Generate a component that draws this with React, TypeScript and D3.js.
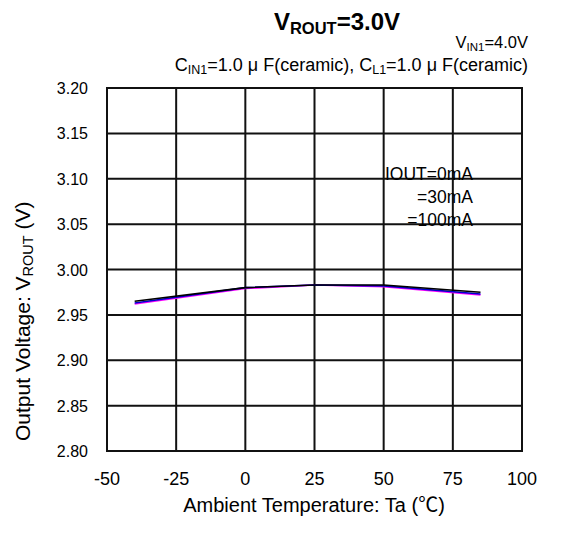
import * as d3 from 'd3'

const temps = [-40, 0, 25, 50, 85]
const iout0 = [2.965, 2.98, 2.983, 2.983, 2.975]
const iout30 = [2.963, 2.98, 2.983, 2.982, 2.973]
const iout100 = [2.962, 2.979, 2.983, 2.981, 2.972]
const xTicks = [-50, -25, 0, 25, 50, 75, 100]
const yTicks = [2.8, 2.85, 2.9, 2.95, 3.0, 3.05, 3.1, 3.15, 3.2]
const legendLabels = ['IOUT=0mA', '=30mA', '=100mA']

const series = [
  { name: '100mA', values: iout100, color: '#ff00ff' },
  { name: '30mA', values: iout30, color: '#0000cc' },
  { name: '0mA', values: iout0, color: '#000000' },
]

export default function App() {
  const width = 563
  const height = 539
  const margin = { top: 88, right: 41, bottom: 88, left: 107 }
  const innerW = width - margin.left - margin.right
  const innerH = height - margin.top - margin.bottom

  const x = d3.scaleLinear().domain([-50, 100]).range([0, innerW])
  const y = d3.scaleLinear().domain([2.8, 3.2]).range([innerH, 0])

  const line = d3
    .line<number>()
    .x((_, i) => x(temps[i]))
    .y((d) => y(d))

  const font = 'Arial, "Liberation Sans", sans-serif'

  return (
    <svg
      width={width}
      height={height}
      style={{ position: 'absolute', left: 0, top: 0, background: '#fff' }}
      fontFamily={font}
    >
      {/* title block */}
      <text x={337} y={30} textAnchor="middle" fontSize={24} fontWeight="bold">
        V<tspan fontSize={16.5} dy={4}>ROUT</tspan>
        <tspan dy={-4}>=3.0V</tspan>
      </text>
      <text x={528} y={48} textAnchor="end" fontSize={16.5}>
        V<tspan fontSize={11.5} dy={2.5}>IN1</tspan>
        <tspan dy={-2.5}>=4.0V</tspan>
      </text>
      <text x={528} y={71} textAnchor="end" fontSize={18}>
        C<tspan fontSize={12.5} dy={3}>IN1</tspan>
        <tspan dy={-3}>=1.0 μ F(ceramic), C</tspan>
        <tspan fontSize={12.5} dy={3}>L1</tspan>
        <tspan dy={-3}>=1.0 μ F(ceramic)</tspan>
      </text>

      <g transform={`translate(${margin.left},${margin.top})`}>
        {yTicks.map((t) => (
          <line key={'gy' + t} x1={0} x2={innerW} y1={y(t)} y2={y(t)} stroke="#111" strokeWidth={2} />
        ))}
        {xTicks.map((t) => (
          <line key={'gx' + t} x1={x(t)} x2={x(t)} y1={0} y2={innerH} stroke="#111" strokeWidth={2} />
        ))}
        <rect x={0} y={0} width={innerW} height={innerH} fill="none" stroke="#111" strokeWidth={2} />

        {series.map((s) => (
          <path key={s.name} d={line(s.values) || ''} fill="none" stroke={s.color} strokeWidth={1.6} />
        ))}

        {yTicks.map((t) => (
          <text key={'ty' + t} x={-19} y={y(t) + 6} textAnchor="end" fontSize={16}>
            {t.toFixed(2)}
          </text>
        ))}
        {xTicks.map((t) => (
          <text key={'tx' + t} x={x(t)} y={innerH + 34} textAnchor="middle" fontSize={18}>
            {t}
          </text>
        ))}

        {legendLabels.map((l, i) => (
          <text key={l} x={366} y={y(3.1) + 1 + i * 23} textAnchor="end" fontSize={17.5}>
            {l}
          </text>
        ))}
      </g>

      <text x={314} y={512} textAnchor="middle" fontSize={20}>
        Ambient Temperature: Ta (<tspan fontFamily='"Noto Sans CJK JP", sans-serif'>℃</tspan>)
      </text>
      <text transform="translate(30,441) rotate(-90)" textAnchor="start" fontSize={21}>
        Output Voltage: V<tspan fontSize={14.5} dy={3}>ROUT</tspan>
        <tspan dy={-3}> (V)</tspan>
      </text>
    </svg>
  )
}
